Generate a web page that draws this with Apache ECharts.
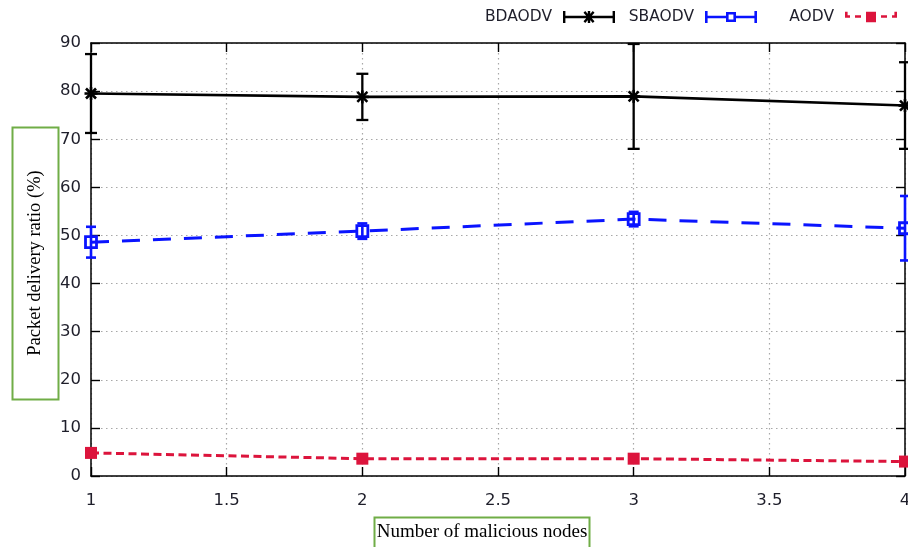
<!DOCTYPE html>
<html>
<head>
<meta charset="utf-8">
<script src="https://cdn.jsdelivr.net/npm/echarts@6/dist/echarts.min.js"></script>
<style>
  html, body { margin: 0; padding: 0; background: #fff; }
  #chart { width: 908px; height: 547px; }
</style>
</head>
<body>
<div id="chart"></div>
<script>
// Number of malicious nodes on the x axis
const nodes = [1, 2, 3, 4];

// Packet delivery ratio (%) per protocol, with error-bar half widths
const bdaodv = [79.5, 78.8, 78.9, 77.0];
const bdaodvErr = [8.2, 4.8, 10.9, 9.0];

const sbaodv = [48.6, 50.9, 53.4, 51.5];
const sbaodvErr = [3.2, 1.6, 1.5, 6.7];

const aodv = [4.8, 3.6, 3.6, 3.0];
const aodvErr = [0.4, 0.4, 0.4, 0.4];

// Axis tick labels
const xTicks = [1, 1.5, 2, 2.5, 3, 3.5, 4];
const yTicks = [0, 10, 20, 30, 40, 50, 60, 70, 80, 90];

const seriesNames = ['BDAODV', 'SBAODV', 'AODV'];
const BLACK = '#000000';
const BLUE = '#0a14ff';
const RED = '#dc143c';
const SANS = 'DejaVu Sans';
const SERIF = 'Liberation Serif';

const points = vals => nodes.map((n, i) => [n, vals[i]]);
const bars = (vals, errs) => nodes.map((n, i) => [n, vals[i], errs[i]]);

// point markers drawn at the data centre
function asterisk(c, color) {
  const r = 6.5, d = 5, st = { stroke: color, lineWidth: 2.6 };
  return [
    { type: 'line', shape: { x1: c[0] - r, y1: c[1], x2: c[0] + r, y2: c[1] }, style: st },
    { type: 'line', shape: { x1: c[0], y1: c[1] - r, x2: c[0], y2: c[1] + r }, style: st },
    { type: 'line', shape: { x1: c[0] - d, y1: c[1] - d, x2: c[0] + d, y2: c[1] + d }, style: st },
    { type: 'line', shape: { x1: c[0] - d, y1: c[1] + d, x2: c[0] + d, y2: c[1] - d }, style: st }
  ];
}
function openSquare(c, color) {
  return [{ type: 'rect', shape: { x: c[0] - 5.5, y: c[1] - 5.5, width: 11, height: 11 },
            style: { fill: 'none', stroke: color, lineWidth: 2.8 } }];
}
function filledSquare(c, color) {
  return [{ type: 'rect', shape: { x: c[0] - 6, y: c[1] - 6, width: 12, height: 12 },
            style: { fill: color } }];
}

// vertical error bar with caps plus the point marker
function errorBars(color, capHalf, width, marker) {
  return function (params, api) {
    const x = api.value(0), y = api.value(1), e = api.value(2);
    const hi = api.coord([x, y + e]);
    const lo = api.coord([x, y - e]);
    const c = api.coord([x, y]);
    const st = { stroke: color, lineWidth: width };
    return {
      type: 'group',
      children: [
        { type: 'line', shape: { x1: hi[0], y1: hi[1], x2: lo[0], y2: lo[1] }, style: st },
        { type: 'line', shape: { x1: hi[0] - capHalf, y1: hi[1], x2: hi[0] + capHalf, y2: hi[1] }, style: st },
        { type: 'line', shape: { x1: lo[0] - capHalf, y1: lo[1], x2: lo[0] + capHalf, y2: lo[1] }, style: st }
      ].concat(marker(c, color))
    };
  };
}

// legend samples (52 x 12): caps, line and marker
const rect = (x, y, w, h) => `M${x} ${y}h${w}v${h}h${-w}Z`;
const iconBD = 'path://' + rect(0, 0, 2.4, 12) + rect(0, 4.8, 52, 2.4) + rect(49.6, 0, 2.4, 12) +
  rect(24.8, 0, 2.4, 12) +
  'M20.5 1.7L22.2 0L31.5 10.3L29.8 12Z' + 'M29.8 0L31.5 1.7L22.2 12L20.5 10.3Z';
const iconSB = 'path://' + rect(0, 0, 2.6, 12) + rect(0, 4.8, 21, 2.4) + rect(31, 4.8, 21, 2.4) +
  rect(49.4, 0, 2.6, 12) +
  'M21 1h10v10h-10Z M23.6 3.6v4.8h4.8v-4.8Z';
const iconAO = 'path://' + rect(0, 0.5, 2.6, 5.5) + rect(0, 4, 5, 2.5) + rect(10, 4, 6, 2.5) +
  rect(21, 0.5, 10, 10.5) + rect(36, 4, 6, 2.5) + rect(47, 4, 5, 2.5) + rect(49.4, 0.5, 2.6, 5.5);

const legendBase = {
  orient: 'horizontal', align: 'right', top: 9, padding: 0,
  itemWidth: 52, itemHeight: 12, selectedMode: false,
  itemStyle: { borderWidth: 0 },
  textStyle: { fontFamily: SANS, fontSize: 15.5, color: '#1e1e2a', padding: [0, 6, 0, 0] }
};

const axisLine = { show: true, onZero: false, lineStyle: { color: '#000', width: 1.5 } };
const tickIn = { show: true, inside: true, length: 9, lineStyle: { color: '#000', width: 1.4 } };
const gridDots = { show: true, lineStyle: { color: '#a8a8a8', width: 1.2, type: [1.5, 3.5] } };
const labelFont = { fontFamily: SANS, fontSize: 16.5, color: '#1e1e2a' };

const chart = echarts.init(document.getElementById('chart'), null, { renderer: 'canvas' });

chart.setOption({
  backgroundColor: '#ffffff',
  animation: false,
  grid: { left: 91, right: 3, top: 43, bottom: 71, containLabel: false, outerBoundsMode: 'none' },
  legend: [
    Object.assign({}, legendBase, { right: 293, data: [{ name: seriesNames[0], icon: iconBD }] }),
    Object.assign({}, legendBase, { right: 151, data: [{ name: seriesNames[1], icon: iconSB }] }),
    Object.assign({}, legendBase, { right: 11, data: [{ name: seriesNames[2], icon: iconAO }] })
  ],
  xAxis: [
    {
      type: 'value', position: 'bottom',
      min: xTicks[0], max: xTicks[xTicks.length - 1], interval: xTicks[1] - xTicks[0],
      axisLine, axisTick: tickIn, splitLine: gridDots,
      axisLabel: Object.assign({ margin: 16, showMinLabel: true, showMaxLabel: true }, labelFont)
    },
    {
      type: 'value', position: 'top',
      min: xTicks[0], max: xTicks[xTicks.length - 1], interval: xTicks[1] - xTicks[0],
      axisLine, axisTick: tickIn, splitLine: { show: false }, axisLabel: { show: false }
    }
  ],
  yAxis: [
    {
      type: 'value', position: 'left',
      min: yTicks[0], max: yTicks[yTicks.length - 1], interval: yTicks[1] - yTicks[0],
      axisLine, axisTick: tickIn, splitLine: gridDots,
      axisLabel: Object.assign({ margin: 10 }, labelFont)
    },
    {
      type: 'value', position: 'right',
      min: yTicks[0], max: yTicks[yTicks.length - 1], interval: yTicks[1] - yTicks[0],
      axisLine, axisTick: tickIn, splitLine: { show: false }, axisLabel: { show: false }
    }
  ],
  series: [
    {
      name: seriesNames[0], type: 'line', data: points(bdaodv), showSymbol: false, symbol: 'none',
      color: BLACK, itemStyle: { color: BLACK },
      lineStyle: { color: BLACK, width: 2.6 }, z: 3
    },
    {
      name: seriesNames[1], type: 'line', data: points(sbaodv), showSymbol: false, symbol: 'none',
      color: BLUE, itemStyle: { color: BLUE },
      lineStyle: { color: BLUE, width: 3, type: [18, 13] }, z: 3
    },
    {
      name: seriesNames[2], type: 'line', data: points(aodv), showSymbol: false, symbol: 'none',
      color: RED, itemStyle: { color: RED },
      lineStyle: { color: RED, width: 3, type: [8, 4.5] }, z: 3
    },
    {
      name: 'BDAODV error', type: 'custom', clip: false, z: 4,
      data: bars(bdaodv, bdaodvErr), encode: { x: 0, y: 1 },
      renderItem: errorBars(BLACK, 6, 2.3, asterisk)
    },
    {
      name: 'SBAODV error', type: 'custom', clip: false, z: 4,
      data: bars(sbaodv, sbaodvErr), encode: { x: 0, y: 1 },
      renderItem: errorBars(BLUE, 5, 2.6, openSquare)
    },
    {
      name: 'AODV error', type: 'custom', clip: false, z: 4,
      data: bars(aodv, aodvErr), encode: { x: 0, y: 1 },
      renderItem: errorBars(RED, 5, 2.4, filledSquare)
    }
  ],
  graphic: [
    {
      type: 'rect', shape: { x: 12.5, y: 127.5, width: 46, height: 272 },
      style: { fill: 'none', stroke: '#70ad47', lineWidth: 2 }
    },
    {
      type: 'text', x: 35, y: 263, rotation: Math.PI / 2,
      style: { text: 'Packet delivery ratio (%)', font: '18.5px "' + SERIF + '"',
               fill: '#000', align: 'center', verticalAlign: 'middle' }
    },
    {
      type: 'rect', shape: { x: 374.5, y: 517.5, width: 215, height: 40 },
      style: { fill: 'none', stroke: '#70ad47', lineWidth: 2 }
    },
    {
      type: 'text', x: 482, y: 532,
      style: { text: 'Number of malicious nodes', font: '19px "' + SERIF + '"',
               fill: '#000', align: 'center', verticalAlign: 'middle' }
    }
  ]
});
</script>
</body>
</html>
